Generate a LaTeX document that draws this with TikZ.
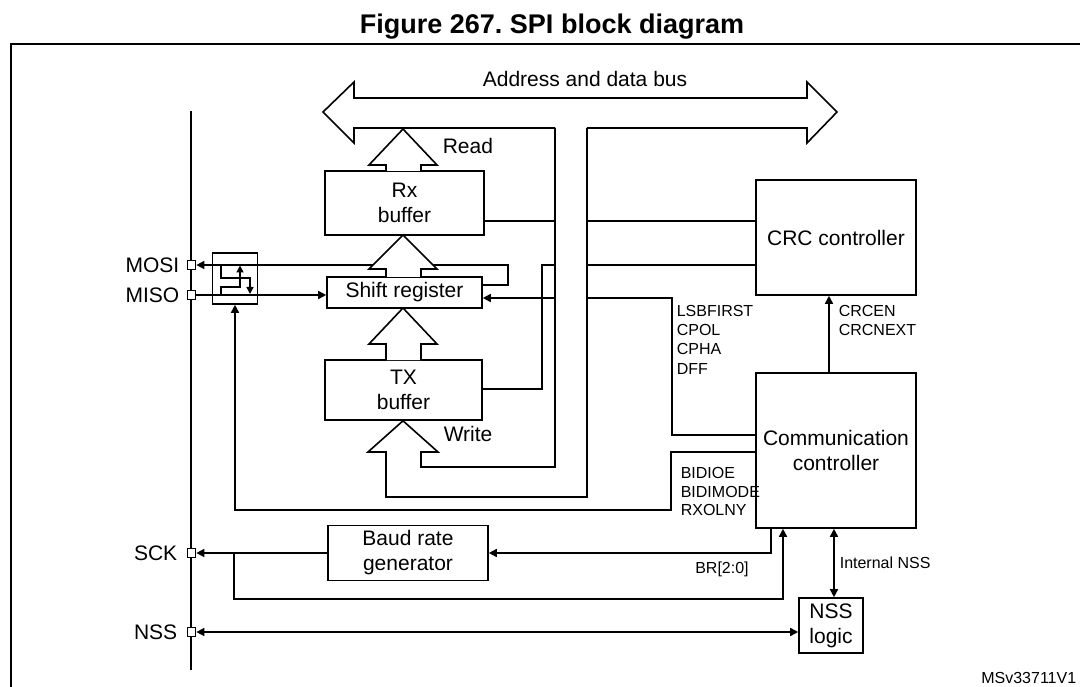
\documentclass[tikz,border=0pt]{standalone}
\usepackage{fontspec}
\setmainfont{Liberation Sans}
\usetikzlibrary{arrows.meta}
\begin{document}
\begin{tikzpicture}[x=1pt,y=-1pt, line width=1.6pt,
  box/.style={draw, fill=white, inner sep=0pt, align=center, font=\fontsize{21}{25}\selectfont},
  lbl/.style={inner sep=0pt, font=\fontsize{16}{19}\selectfont},
  big/.style={inner sep=0pt, font=\fontsize{21}{25}\selectfont},
  pinbox/.style={draw, fill=white, minimum size=8.5pt, inner sep=0pt, line width=1.2pt},
  tip/.style={-{Triangle[length=8pt,width=8pt]}},
  smalltip/.style={-{Triangle[length=7pt,width=7pt]}},
  dtip/.style={{Triangle[length=8pt,width=8pt]}-{Triangle[length=8pt,width=8pt]}},
  blockarrow/.style={draw, fill=white}
]
\useasboundingbox (0,0) rectangle (1080,687);

% frame and title
\draw (11,690) -- (11,44) -- (1085,44);
\node[inner sep=0pt, anchor=base, font=\bfseries\fontsize{27}{30}\selectfont] (title) at (552,34) {Figure 267.\ SPI block diagram};

% pin bus line
\draw (191,111) -- (191,670);

% address and data bus
\coordinate (busL) at (555,128);
\coordinate (busR) at (587,128);
\draw (busL) -- (354,128) -- (354,143) -- (323,112) -- (354,82) -- (354,98) -- (807,98) -- (807,82) -- (837,112) -- (807,143) -- (807,128) -- (busR);
\node[big, anchor=base] (buslbl) at (585,87) {Address and data bus};

% boxes
\node[box, minimum width=159pt, minimum height=64pt] (rx) at (404.5,203) {Rx\\buffer};
\node[box, minimum width=155pt, minimum height=31pt] (shift) at (404.5,292.5) {Shift register};
\node[box, minimum width=157pt, minimum height=60pt] (tx) at (403.5,390) {TX\\buffer};
\node[box, minimum width=160pt, minimum height=115pt] (crc) at (836,237.5) {CRC controller};
\node[box, minimum width=160pt, minimum height=155pt] (comm) at (836,450.5) {Communication\\controller};
\node[box, minimum width=160pt, minimum height=55pt] (baud) at (408,553) {Baud rate\\generator};
\node[box, minimum width=64pt, minimum height=55pt] (nss) at (831,625.5) {NSS\\logic};
\node[draw, minimum width=45pt, minimum height=51pt, inner sep=0pt] (sw) at (235,278.5) {};

% pins
\node[pinbox] (pmosi) at (191.5,265) {};
\node[pinbox] (pmiso) at (191.5,295) {};
\node[pinbox] (psck) at (191.5,553) {};
\node[pinbox] (pnss) at (191.5,632) {};
\node[big, anchor=base east] (lmosi) at (180,272.5) {MOSI};
\node[big, anchor=base east] (lmiso) at (180,302.5) {MISO};
\node[big, anchor=base east] (lsck) at (178,560.5) {SCK};
\node[big, anchor=base east] (lnss) at (178,639.5) {NSS};

% bus taps
\coordinate (lb1) at (555,221);
\coordinate (lb2) at (555,265);
\coordinate (lb3) at (555,298);
\coordinate (rb1) at (587,221);
\coordinate (rb2) at (587,265);
\coordinate (rb3) at (587,298);

% write path (bus to TX buffer)
\draw (busL) -- (555,467) -- (421,467) -- (421,452) -- (438,452) -- (tx.south -| 403,0) -- (368,452) -- (386,452) -- (386,497) -- (587,497) -- (busR);

% left side connections
\draw (rx.east |- lb1) -- (lb1);
\coordinate (txc) at (542,389);
\draw (lb2) -- (lb2 -| txc) -- (txc) -- (txc -| tx.east);
\draw[tip] (lb3) -- (lb3 -| shift.east);
\coordinate (mo) at (508,285);
\coordinate (mo2) at (508,265);
\draw[tip] (mo -| shift.east) -- (mo) -- (mo2) -- (pmosi.east);
\draw[tip] (pmiso.east) -- (pmiso -| shift.west);

% switch internals
\draw[smalltip, line width=1.4pt] (221,265) -- (221,278) -- (250,278) -- (250,294);
\draw[smalltip, line width=1.4pt] (221,295) -- (221,287) -- (240,287) -- (240,265.5);

% right side connections
\draw (rb1) -- (rb1 -| crc.west);
\draw (rb2) -- (rb2 -| crc.west);
\coordinate (lsb) at (672,298);
\coordinate (lsb2) at (672,435);
\draw (rb3) -- (lsb) -- (lsb2) -- (lsb2 -| comm.west);
\coordinate (bd1) at (671,452);
\coordinate (bd2) at (671,510);
\coordinate (bd3) at (235,510);
\draw[tip] (bd1 -| comm.west) -- (bd1) -- (bd2) -- (bd3) -- (sw.south);
\coordinate (cc) at (829,0);
\draw[tip] (cc |- comm.north) -- (cc |- crc.south);
\coordinate (br) at (771,553);
\draw[tip] (br |- comm.south) -- (br) -- (br -| baud.east);
\draw[tip] (baud.west) -- (psck.east);
\coordinate (sb1) at (234,553);
\coordinate (sb2) at (234,599);
\coordinate (sb3) at (783,599);
\draw[tip] (sb1) -- (sb2) -- (sb3) -- (sb3 |- comm.south);
\draw[dtip] (pnss.east) -- (pnss -| nss.west);
\coordinate (inss) at (834,0);
\draw[dtip] (inss |- comm.south) -- (inss |- nss.north);

% block arrows
\draw[blockarrow] (386,171) -- (386,165) -- (369,165) -- (403,129) -- (437,165) -- (421,165) -- (421,171);
\draw[blockarrow] (386,277) -- (386,269) -- (369,269) -- (403,235) -- (437,269) -- (421,269) -- (421,277);
\draw[blockarrow] (386,360) -- (386,344) -- (369,344) -- (403,308) -- (437,344) -- (421,344) -- (421,360);

% labels
\node[big, anchor=base west] (lread) at (442,154) {Read};
\node[big, anchor=base west] (lwrite) at (443,441) {Write};
\node[lbl, anchor=base west] (l1) at (676,317) {LSBFIRST};
\node[lbl, anchor=base west] (l2) at (676,336) {CPOL};
\node[lbl, anchor=base west] (l3) at (676,355) {CPHA};
\node[lbl, anchor=base west] (l4) at (676,374) {DFF};
\node[lbl, anchor=base west] (c1) at (838,317) {CRCEN};
\node[lbl, anchor=base west] (c2) at (838,336) {CRCNEXT};
\node[lbl, anchor=base west] (b1) at (680,478) {BIDIOE};
\node[lbl, anchor=base west] (b2) at (680,497) {BIDIMODE};
\node[lbl, anchor=base west] (b3) at (680,515) {RXOLNY};
\node[lbl, anchor=base] (lbr) at (722,573) {BR[2:0]};
\node[lbl, anchor=base west] (lint) at (839,568) {Internal NSS};
\node[lbl, anchor=base east] (lms) at (1077,683) {MSv33711V1};
\end{tikzpicture}
\end{document}
